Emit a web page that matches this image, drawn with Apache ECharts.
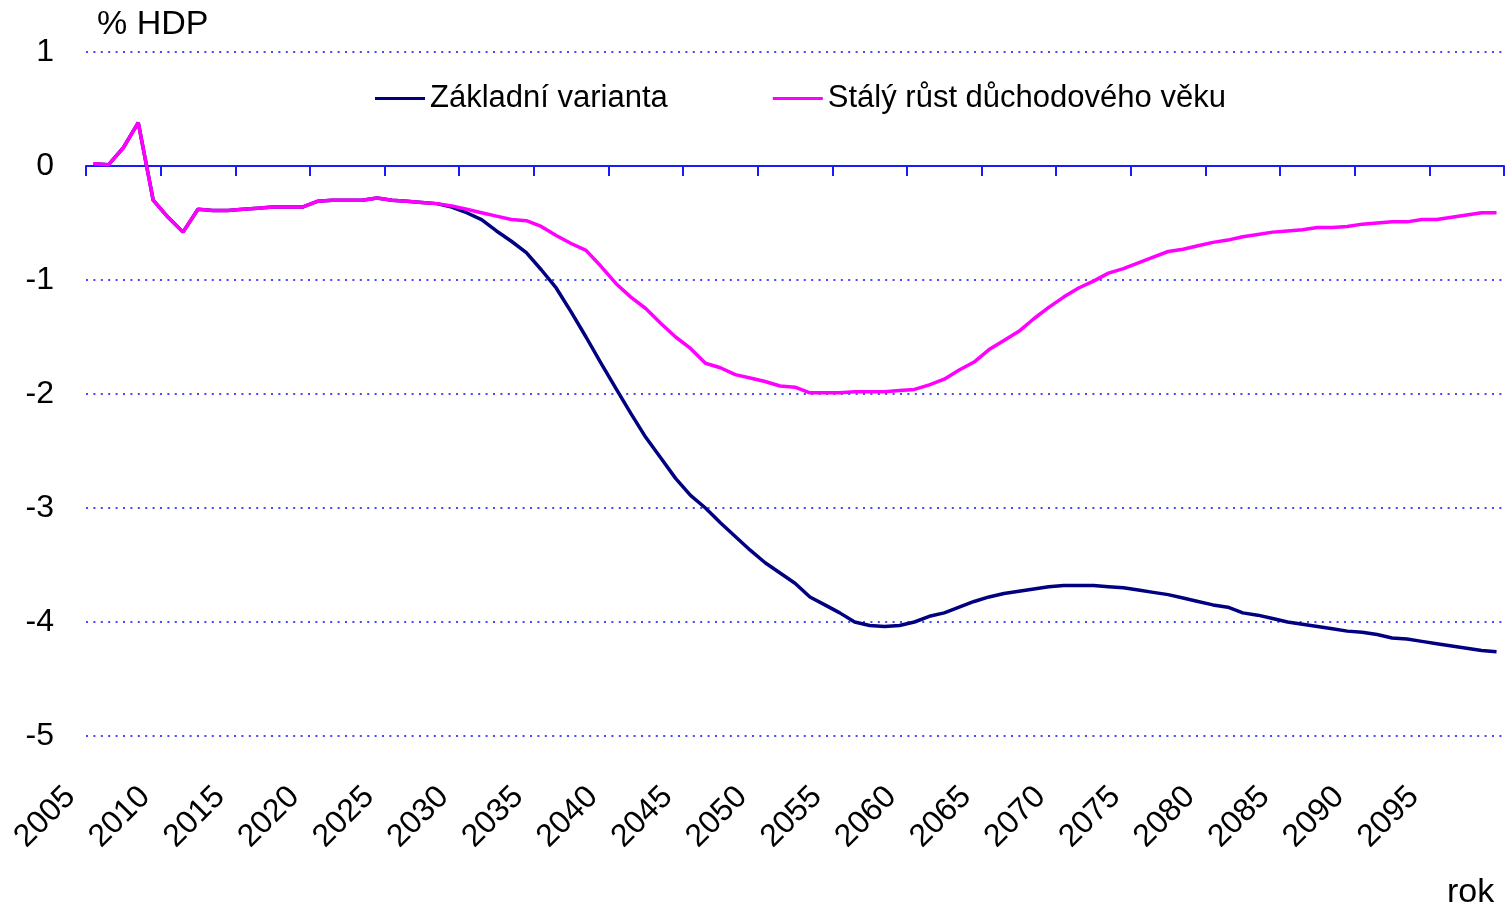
<!DOCTYPE html>
<html>
<head>
<meta charset="utf-8">
<title>% HDP</title>
<script src="https://cdn.jsdelivr.net/npm/echarts@6/dist/echarts.min.js"></script>
<style>
  html, body { margin: 0; padding: 0; background: #fff; }
  #myChart { width: 1511px; height: 910px; }
</style>
</head>
<body>
<div id="myChart"></div>
<script>
  // roky 2005 - 2099
  var years = [];
  for (var y = 2005; y <= 2099; y++) years.push(String(y));

  var seriesNames = ['Základní varianta', 'Stálý růst důchodového věku'];

  var zakladni = [
    0.02, 0.01, 0.16, 0.38, -0.30, -0.45, -0.58, -0.38, -0.39, -0.39,
    -0.38, -0.37, -0.36, -0.36, -0.36, -0.31, -0.30, -0.30, -0.30, -0.28,
    -0.30, -0.31, -0.32, -0.33, -0.36, -0.41, -0.47, -0.57, -0.66, -0.76,
    -0.91, -1.07, -1.28, -1.50, -1.73, -1.95, -2.17, -2.38, -2.56, -2.74,
    -2.89, -3.00, -3.13, -3.25, -3.37, -3.48, -3.57, -3.66, -3.78, -3.85,
    -3.92, -4.00, -4.03, -4.04, -4.03, -4.00, -3.95, -3.92, -3.87, -3.82,
    -3.78, -3.75, -3.73, -3.71, -3.69, -3.68, -3.68, -3.68, -3.69, -3.70,
    -3.72, -3.74, -3.76, -3.79, -3.82, -3.85, -3.87, -3.92, -3.94, -3.97,
    -4.00, -4.02, -4.04, -4.06, -4.08, -4.09, -4.11, -4.14, -4.15, -4.17,
    -4.19, -4.21, -4.23, -4.25, -4.26
  ];

  var rustVeku = [
    0.02, 0.01, 0.16, 0.38, -0.30, -0.45, -0.58, -0.38, -0.39, -0.39,
    -0.38, -0.37, -0.36, -0.36, -0.36, -0.31, -0.30, -0.30, -0.30, -0.28,
    -0.30, -0.31, -0.32, -0.33, -0.35, -0.38, -0.41, -0.44, -0.47, -0.48,
    -0.53, -0.61, -0.68, -0.74, -0.88, -1.03, -1.15, -1.25, -1.38, -1.50,
    -1.60, -1.73, -1.77, -1.83, -1.86, -1.89, -1.93, -1.94, -1.99, -1.99,
    -1.99, -1.98, -1.98, -1.98, -1.97, -1.96, -1.92, -1.87, -1.79, -1.72,
    -1.61, -1.53, -1.45, -1.34, -1.24, -1.15, -1.07, -1.01, -0.94, -0.90,
    -0.85, -0.80, -0.75, -0.73, -0.70, -0.67, -0.65, -0.62, -0.60, -0.58,
    -0.57, -0.56, -0.54, -0.54, -0.53, -0.51, -0.50, -0.49, -0.49, -0.47,
    -0.47, -0.45, -0.43, -0.41, -0.41
  ];

  var font = '"Liberation Sans", Arial, sans-serif';
  var axisBlue = '#1a1aff';

  var chart = echarts.init(document.getElementById('myChart'));
  chart.setOption({
    animation: false,
    textStyle: { fontFamily: font },
    title: [
      { text: '% HDP', left: 97, top: 8, padding: 0,
        textStyle: { fontSize: 34, fontWeight: 'normal', color: '#000', fontFamily: font } },
      { text: 'rok', left: 1447, top: 876, padding: 0,
        textStyle: { fontSize: 34, fontWeight: 'normal', color: '#000', fontFamily: font } }
    ],
    legend: {
      left: 375,
      top: 83,
      padding: 0,
      icon: 'rect',
      itemWidth: 50,
      itemHeight: 3,
      itemGap: 105,
      textStyle: { fontSize: 31, color: '#000', fontFamily: font },
      data: seriesNames
    },
    grid: [
      { left: 86, right: 7, top: 52, bottom: 174 },
      // jen pro popisky roku, posunute doleva
      { left: 63, right: 30, top: 52, bottom: 174 }
    ],
    xAxis: [
      {
        type: 'category',
        gridIndex: 0,
        data: years,
        boundaryGap: true,
        axisLine: { onZero: true, lineStyle: { color: axisBlue, width: 2 } },
        axisTick: { show: true, interval: 4, length: 10, lineStyle: { color: axisBlue, width: 2 } },
        axisLabel: { show: false },
        splitLine: { show: false }
      },
      {
        type: 'category',
        gridIndex: 1,
        position: 'bottom',
        data: years,
        boundaryGap: true,
        axisLine: { show: false, onZero: false },
        axisTick: { show: false },
        axisLabel: { interval: 4, rotate: 45, margin: 56, fontSize: 32, color: '#000', fontFamily: font },
        splitLine: { show: false }
      }
    ],
    yAxis: [
      {
        type: 'value',
        gridIndex: 0,
        min: -5,
        max: 1,
        interval: 1,
        axisLine: { show: false },
        axisTick: { show: false },
        axisLabel: { fontSize: 32, color: '#000', margin: 32, fontFamily: font },
        splitLine: { lineStyle: { color: '#4747ff', width: 2, type: [2, 5.4] } }
      },
      {
        type: 'value',
        gridIndex: 1,
        min: -5,
        max: 1,
        show: false
      }
    ],
    series: [
      {
        name: seriesNames[0],
        type: 'line',
        xAxisIndex: 0,
        yAxisIndex: 0,
        data: zakladni,
        symbol: 'none',
        color: '#000080',
        lineStyle: { width: 3.5, color: '#000080' }
      },
      {
        name: seriesNames[1],
        type: 'line',
        xAxisIndex: 0,
        yAxisIndex: 0,
        data: rustVeku,
        symbol: 'none',
        color: '#ff00ff',
        lineStyle: { width: 3.5, color: '#ff00ff' }
      }
    ]
  });
</script>
</body>
</html>
